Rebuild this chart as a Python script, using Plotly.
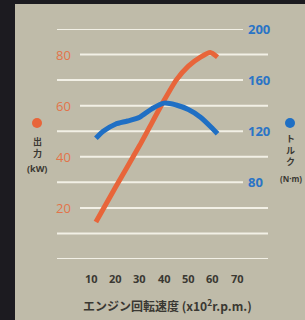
import plotly.graph_objects as go

# Data
rpm_power = [12, 20, 30, 40, 45, 50, 55, 59, 62]
power_kw = [14.5, 28, 44.5, 62, 70, 75.5, 79, 80.8, 79]
rpm_torque = [12, 15, 20, 25, 30, 35, 40, 45, 50, 55, 60, 62]
torque_nm = [114.5, 120, 125.5, 128, 131, 137.5, 142, 140.5, 137, 131, 122, 118]
x_ticks = [10, 20, 30, 40, 50, 60, 70]
left_ticks = [20, 40, 60, 80]
right_ticks = [80, 120, 160, 200]
bottom_grid = [0, 10]

W, H = 305, 320
L, R, T, B = 57, 268, 29, 259
pw, ph = R - L, B - T

def px(p):
    return (p - L) / pw

def py(p):
    return (B - p) / ph

ORANGE = "#e8653a"
BLUE = "#1f6fc4"
ORANGE_TXT = "#e2744a"
BLUE_TXT = "#2a74c6"
GRID = "#f2f0e6"
BG = "#bfbba9"
DARK = "#1c1b20"
TXT = "#3a3832"

fig = go.Figure()
fig.add_trace(go.Scatter(x=rpm_power, y=power_kw, mode="lines",
                         line=dict(color=ORANGE, width=5, shape="spline", smoothing=0.6),
                         yaxis="y", showlegend=False, hoverinfo="skip"))
fig.add_trace(go.Scatter(x=rpm_torque, y=torque_nm, mode="lines",
                         line=dict(color=BLUE, width=5, shape="spline", smoothing=0.8),
                         yaxis="y2", showlegend=False, hoverinfo="skip"))

shapes = []
# frame
shapes.append(dict(type="rect", xref="paper", yref="paper", x0=px(0), x1=px(15), y0=py(320), y1=py(0),
                   fillcolor=DARK, line=dict(width=0), layer="below"))
shapes.append(dict(type="rect", xref="paper", yref="paper", x0=px(0), x1=px(305), y0=py(4), y1=py(0),
                   fillcolor=DARK, line=dict(width=0), layer="below"))
# gridlines
for v in left_ticks:
    shapes.append(dict(type="line", xref="paper", yref="y", x0=px(80), x1=px(268), y0=v, y1=v,
                       line=dict(color=GRID, width=2), layer="below"))
for v in right_ticks:
    shapes.append(dict(type="line", xref="paper", yref="y2", x0=px(57), x1=px(243), y0=v, y1=v,
                       line=dict(color=GRID, width=2), layer="below"))
for v in bottom_grid:
    shapes.append(dict(type="line", xref="paper", yref="y", x0=px(57), x1=px(268), y0=v, y1=v,
                       line=dict(color=GRID, width=2), layer="below"))
# legend dots
shapes.append(dict(type="circle", xref="paper", yref="paper", x0=px(32), x1=px(42), y0=py(128), y1=py(118),
                   fillcolor=ORANGE, line=dict(width=0)))
shapes.append(dict(type="circle", xref="paper", yref="paper", x0=px(285), x1=px(295), y0=py(128), y1=py(118),
                   fillcolor=BLUE, line=dict(width=0)))

ann = []
for v in left_ticks:
    ann.append(dict(x=px(73), y=v, xref="paper", yref="y", text=str(v), showarrow=False,
                    xanchor="right", yanchor="middle",
                    font=dict(family="Open Sans", size=13, color=ORANGE_TXT)))
for v in right_ticks:
    ann.append(dict(x=px(246), y=v, xref="paper", yref="y2", text="<b>%d</b>" % v, showarrow=False,
                    xanchor="left", yanchor="middle",
                    font=dict(family="Open Sans", size=13, color=BLUE_TXT)))
for v in x_ticks:
    ann.append(dict(x=v, y=py(278), xref="x", yref="paper", text="<b>%d</b>" % v, showarrow=False,
                    xanchor="center", yanchor="middle",
                    font=dict(family="Open Sans", size=11, color=TXT)))
ann.append(dict(x=px(167), y=py(305), xref="paper", yref="paper",
                text="<b>エンジン回転速度 (x10<sup>2</sup>r.p.m.)</b>", showarrow=False,
                xanchor="center", yanchor="middle",
                font=dict(family="Noto Sans CJK JP", size=12, color=TXT)))
ann.append(dict(x=px(37), y=py(147), xref="paper", yref="paper", text="<b>出<br>力</b>", showarrow=False,
                xanchor="center", yanchor="middle",
                font=dict(family="Noto Sans CJK JP", size=9, color=TXT)))
ann.append(dict(x=px(37), y=py(168), xref="paper", yref="paper", text="<b>(kW)</b>", showarrow=False,
                xanchor="center", yanchor="middle",
                font=dict(family="Open Sans", size=9, color=TXT)))
ann.append(dict(x=px(290), y=py(150), xref="paper", yref="paper", text="<b>ト<br>ル<br>ク</b>", showarrow=False,
                xanchor="center", yanchor="middle",
                font=dict(family="Noto Sans CJK JP", size=9, color=TXT)))
ann.append(dict(x=px(304), y=py(178), xref="paper", yref="paper", text="<b>(N·m)</b>", showarrow=False,
                xanchor="right", yanchor="middle",
                font=dict(family="Open Sans", size=8, color=TXT)))

x0 = 66.7
upx = 2.433
fig.update_layout(
    width=W, height=H,
    margin=dict(l=L, r=W - R, t=T, b=H - B, pad=0),
    paper_bgcolor=BG, plot_bgcolor="rgba(0,0,0,0)",
    xaxis=dict(range=[(L - x0) / upx, (R - x0) / upx], showgrid=False, zeroline=False,
               showticklabels=False, showline=False, fixedrange=True),
    yaxis=dict(range=[0, 90], showgrid=False, zeroline=False, showticklabels=False, showline=False),
    yaxis2=dict(range=[20, 200], overlaying="y", side="right", showgrid=False, zeroline=False,
                showticklabels=False, showline=False),
    shapes=shapes, annotations=ann,
)
fig.write_html("out.html", config={"displayModeBar": False},
               post_script="document.body.style.margin='0';document.body.style.padding='0';"
                           "document.body.style.overflow='hidden';")
